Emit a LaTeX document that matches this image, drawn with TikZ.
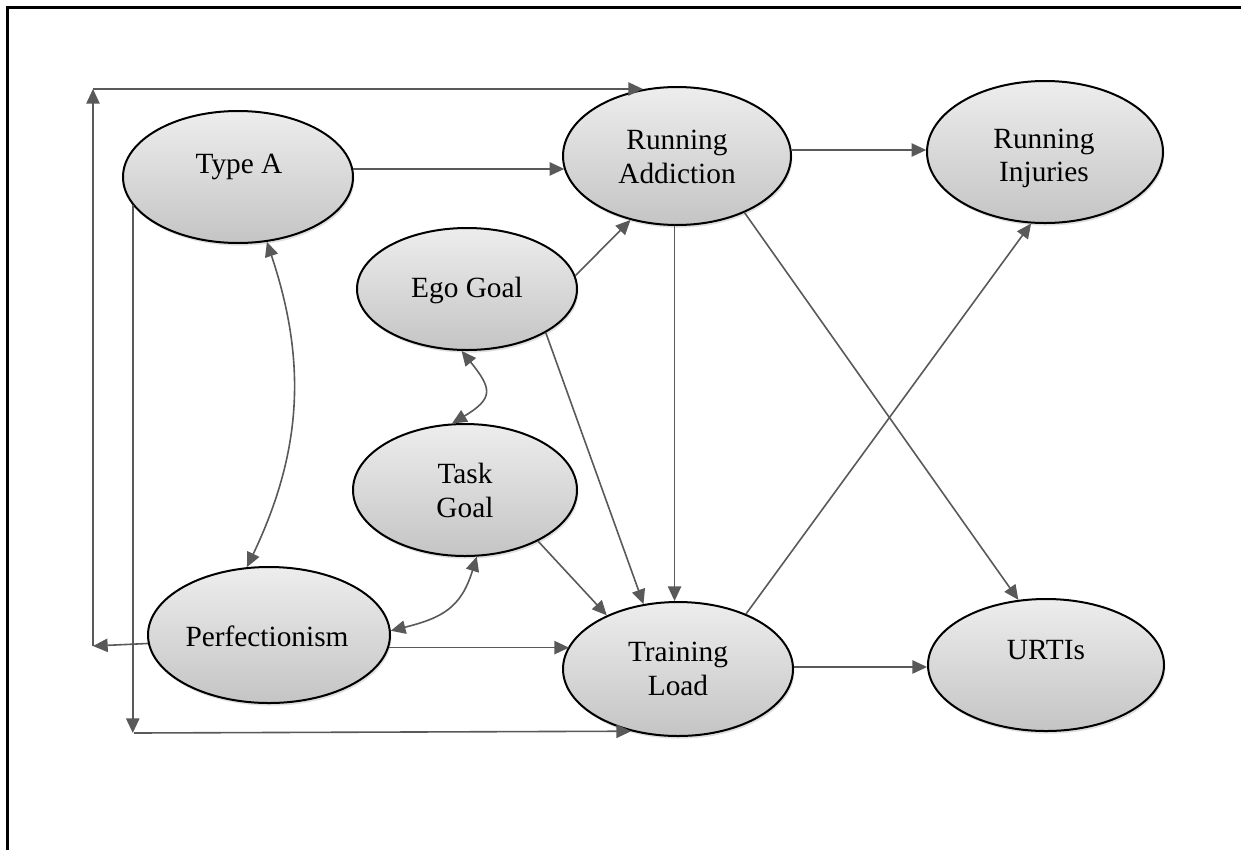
\documentclass[tikz,border=0pt]{standalone}
\usepackage{fontspec}
\setmainfont{Liberation Serif}
\usetikzlibrary{arrows.meta,shapes.geometric,shadows}
\definecolor{linkgray}{HTML}{595959}
\begin{document}
\begin{tikzpicture}[x=0.75pt,y=-0.75pt,
  var/.style={ellipse, draw=black, line width=1.5pt, inner sep=0pt,
    top color=black!7, bottom color=black!23,
    drop shadow={shadow xshift=1pt, shadow yshift=-2pt, opacity=0.25}},
  lbl/.style={anchor=base, inner sep=0pt, font=\fontsize{22}{26}\selectfont},
  tip/.tip={Triangle[length=11pt,width=10pt]},
  link/.style={draw=linkgray, line width=1.2pt, -tip},
  both/.style={draw=linkgray, line width=1.2pt, tip-tip},
]
\useasboundingbox (0,0) rectangle (1241,850);

% page frame (top and left edges)
\draw[line width=1.7pt] (7.5,850) -- (7.5,7.5) -- (1241,7.5);

% variables
\node[var, minimum width=172.5pt, minimum height=99pt]  (TA) at (238,177)  {};
\node[var, minimum width=171pt,   minimum height=103.5pt] (RA) at (677,156) {};
\node[var, minimum width=177pt,   minimum height=106.5pt] (RI) at (1045,152) {};
\node[var, minimum width=165pt,   minimum height=91.5pt] (EG) at (467,289) {};
\node[var, minimum width=168pt,   minimum height=99pt]  (TG) at (465,490)  {};
\node[var, minimum width=181.5pt, minimum height=102pt] (PF) at (269,635)  {};
\node[var, minimum width=172.5pt, minimum height=100.5pt] (TL) at (678,669) {};
\node[var, minimum width=177pt,   minimum height=99pt]  (UR) at (1046,665) {};

% labels
\node[lbl] (tTA)  at (239,173)  {Type A};
\node[lbl] (tRA1) at (677,149)  {Running};
\node[lbl] (tRA2) at (677,183)  {Addiction};
\node[lbl] (tRI1) at (1044,148) {Running};
\node[lbl] (tRI2) at (1044,181) {Injuries};
\node[lbl] (tEG)  at (467,297)  {Ego Goal};
\node[lbl] (tTG1) at (465,483)  {Task};
\node[lbl] (tTG2) at (465,517)  {Goal};
\node[lbl] (tPF)  at (267,646)  {Perfectionism};
\node[lbl] (tTL1) at (678,661)  {Training};
\node[lbl] (tTL2) at (678,695)  {Load};
\node[lbl] (tUR)  at (1046,659) {URTIs};

% corner points of the routed connectors
\coordinate (c1) at (93,646);
\coordinate (c2) at (93,89);
\coordinate (c3) at (134,733);

% straight paths
\draw[link] (TA.4)   -- (TA.4 -| RA.187);
\draw[link] (RA.3)   -- (RA.3 -| RI.178);
\draw[link] (EG.7)   -- (RA.234);
\draw[link] (EG.-29) -- (TL.118);
\draw[link] (TG.-35) -- (TL.143);
\draw[link] (RA.-92) -- (RA.-92 |- TL.north);
\draw[link] (RA.-40) -- (UR.113);
\draw[link] (TL.39)  -- (RI.259);
\draw[link] (PF.-6)  -- (PF.-6 -| TL.168);
\draw[link] (TL.1)   -- (TL.1 -| UR.179);

% Perfectionism -> Running Addiction, routed round the left side
\draw[link] (PF.184) -- (c1);
\draw[link] (c1) -- (c2);
\draw[link] (c2) -- (c2 -| RA.117);

% Type A -> Training Load, routed round the bottom
\draw[link] (TA.195) -- (TA.195 |- c3);
\draw[link] (c3) -- (TL.233);

% correlations
\draw[both] (TA.-66) to[bend left=22] (PF.108);
\draw[both] (EG.265) to[out=-51, in=31, looseness=1.7] (TG.101);
\draw[both] (TG.-80) to[out=-107, in=14, looseness=1.2] (PF.2);
\end{tikzpicture}
\end{document}
